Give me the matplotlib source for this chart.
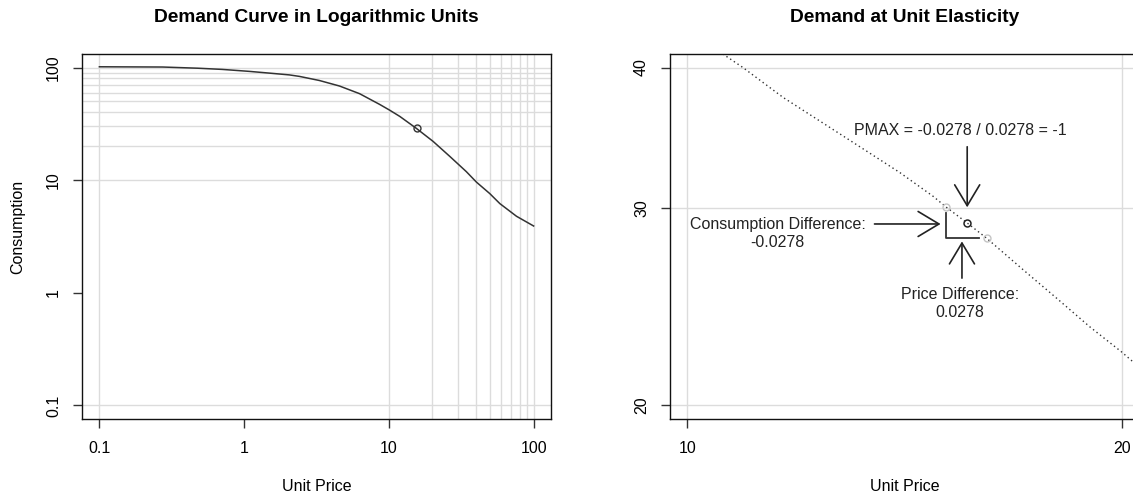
import numpy as np
import matplotlib
matplotlib.use("Agg")
import matplotlib.pyplot as plt

plt.rcParams['font.family'] = ['Liberation Sans', 'DejaVu Sans']
plt.rcParams['font.size'] = 11.5

# demand curve
price = [0.1, 0.273, 0.476, 0.706, 1.087, 1.49, 2.05, 2.41, 3.31, 4.56, 6.27,
         8.62, 10.1, 11.9, 15.5, 20.2, 26.3, 34.3, 40.3, 49.8, 58.4, 76.2, 100]
consumption = [101.5, 101, 98.6, 96.2, 92.4, 89.2, 86.0, 83.4, 76.7, 68.5, 58.6,
               47.1, 41.9, 36.8, 28.8, 22.1, 16.3, 11.9, 9.6, 7.6, 6.2, 4.78, 3.92]

# same curve
zoom_price = [10.58, 10.92, 11.65, 12.61, 13.31, 14.04, 14.80, 15.12, 15.63,
              16.12, 17.09, 18.03, 19.01, 20.00, 20.37]
zoom_consumption = [41.13, 40.02, 37.62, 35.24, 33.70, 32.24, 30.72, 30.03, 29.08,
                    28.19, 26.42, 24.92, 23.50, 22.32, 21.87]

pmax_price, pmax_cons = 15.63, 29.08
side_price = [15.12, 16.12]
side_cons = [30.03, 28.19]
step_price = [15.12, 15.12, 15.93]
step_cons = [29.69, 28.19, 28.19]

left_ticks = [0.1, 1, 10, 100]
left_tick_labels = ['0.1', '1', '10', '100']
left_grid = [0.1, 10, 20, 30, 40, 50, 60, 70, 80, 90, 100]
right_xticks = [10, 20]
right_yticks = [20, 30, 40]

GRID = '#DCDCDC'
INK = '#222222'


def log_lim(lo, hi):
    a, b = np.log10(lo), np.log10(hi)
    d = 0.04 * (b - a)
    return 10 ** (a - d), 10 ** (b + d)


def style_axes(ax):
    for s in ax.spines.values():
        s.set_linewidth(1.0)
        s.set_color('#111111')
    ax.minorticks_off()
    ax.tick_params(axis='both', length=6.5, width=1.0, color='#333333',
                   labelsize=11.5)
    ax.tick_params(axis='x', pad=9)
    ax.tick_params(axis='y', pad=14)
    for lab in ax.get_yticklabels():
        lab.set_rotation(90)
        lab.set_ha('center')
        lab.set_va('center')


fig = plt.figure(figsize=(11.33, 4.99), dpi=100)
fig.patch.set_facecolor('white')

# ---- left: full demand curve ----
ax1 = fig.add_axes([0.0724, 0.1603, 0.4139, 0.7315])
ax1.set_xscale('log')
ax1.set_yscale('log')
ax1.set_xlim(*log_lim(0.1, 100))
ax1.set_ylim(*log_lim(0.1, 100))
for v in left_grid:
    ax1.axvline(v, color=GRID, lw=1.0, zorder=0)
    ax1.axhline(v, color=GRID, lw=1.0, zorder=0)
ax1.plot(price, consumption, color='#333333', lw=1.1)
ax1.plot([pmax_price], [pmax_cons], 'o', mfc='none', mec='#333333', ms=5, mew=1.0)
ax1.set_xticks(left_ticks)
ax1.set_xticklabels(left_tick_labels)
ax1.set_yticks(left_ticks)
ax1.set_yticklabels(left_tick_labels)
style_axes(ax1)
ax1.set_title('Demand Curve in Logarithmic Units', fontsize=13.8,
              fontweight='bold', pad=23)
ax1.set_xlabel('Unit Price')
ax1.xaxis.set_label_coords(0.5, -0.186)
ax1.xaxis.label.set_va('center')
ax1.set_ylabel('Consumption')
ax1.yaxis.set_label_coords(-0.1365, 0.525)
ax1.yaxis.label.set_va('center')

# ---- right: zoom at unit elasticity ----
ax2 = fig.add_axes([0.5914, 0.1603, 0.4139, 0.7315])
ax2.set_xscale('log')
ax2.set_yscale('log')
ax2.set_xlim(*log_lim(10, 20))
ax2.set_ylim(*log_lim(20, 40))
for v in right_xticks:
    ax2.axvline(v, color=GRID, lw=1.0, zorder=0)
for v in right_yticks:
    ax2.axhline(v, color=GRID, lw=1.0, zorder=0)
ax2.plot(zoom_price, zoom_consumption, color='#333333', lw=1.0,
         linestyle=(0, (1, 2.2)))
ax2.plot(step_price, step_cons, color='#333333', lw=1.3)
ax2.plot(side_price, side_cons, 'o', mfc='none', mec='#C4C4C4', ms=5, mew=1.0)
ax2.plot([pmax_price], [pmax_cons], 'o', mfc='none', mec='#222222', ms=5, mew=1.1)
ax2.set_xticks(right_xticks)
ax2.set_xticklabels([str(t) for t in right_xticks])
ax2.set_yticks(right_yticks)
ax2.set_yticklabels([str(t) for t in right_yticks])
style_axes(ax2)
ax2.set_title('Demand at Unit Elasticity', fontsize=13.8,
              fontweight='bold', pad=23)
ax2.set_xlabel('Unit Price')
ax2.xaxis.set_label_coords(0.5, -0.186)
ax2.xaxis.label.set_va('center')

arrow = dict(arrowstyle='->,head_length=0.75,head_width=0.45', lw=1.2,
             color=INK, shrinkA=0, shrinkB=0, mutation_scale=20)

ax2.annotate('', xy=(pmax_price, 30.03), xytext=(pmax_price, 34.0),
             arrowprops=arrow)
ax2.text(15.45, 35.12, 'PMAX = -0.0278 / 0.0278 = -1', ha='center',
         va='center', color=INK)

ax2.annotate('', xy=(14.98, 29.02), xytext=(13.48, 29.02), arrowprops=arrow)
ax2.text(11.55, 28.47, 'Consumption Difference:\n-0.0278', ha='center',
         va='center', color=INK, linespacing=1.25)

ax2.annotate('', xy=(15.50, 28.00), xytext=(15.50, 25.97), arrowprops=arrow)
ax2.text(15.45, 24.66, 'Price Difference:\n0.0278', ha='center',
         va='center', color=INK, linespacing=1.25)

fig.savefig('out.png', dpi=100, facecolor='white')
